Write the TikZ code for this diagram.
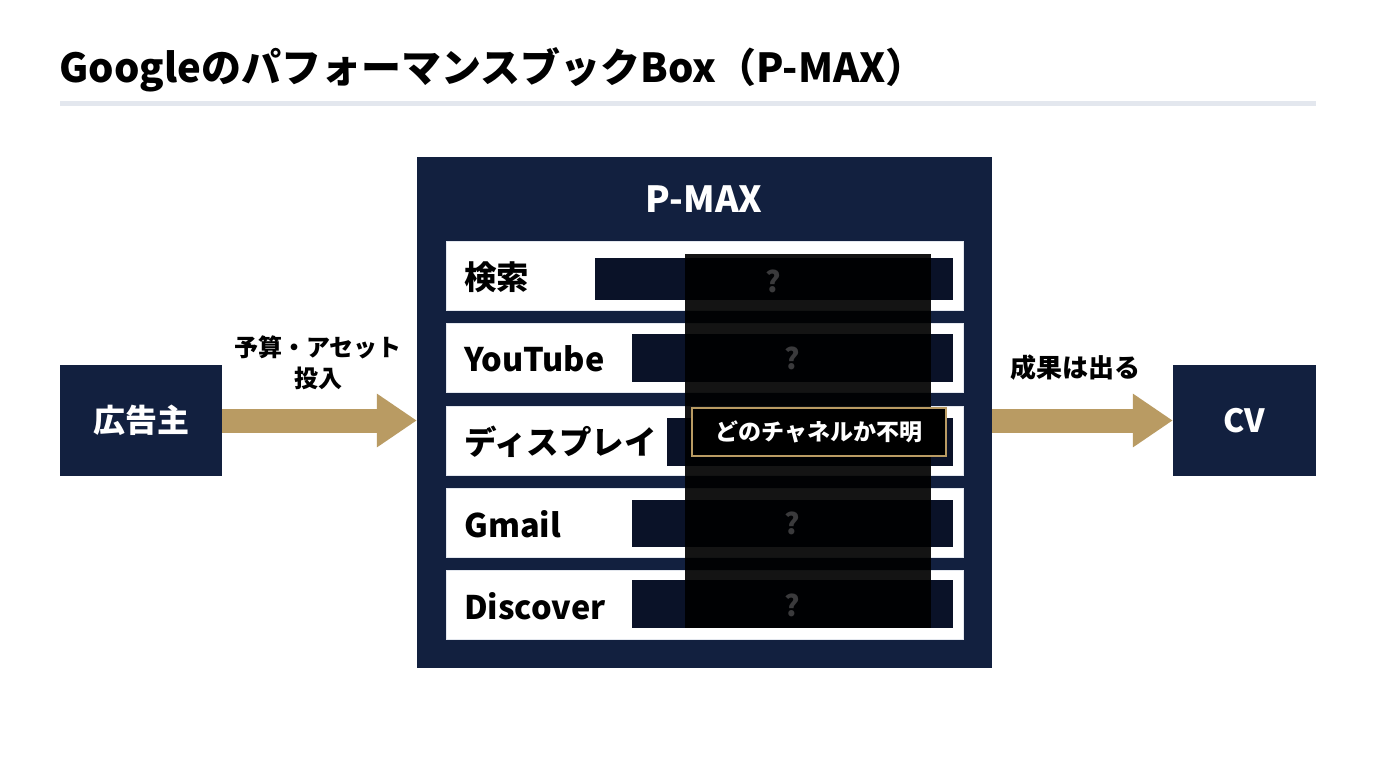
\documentclass[tikz,border=0pt]{standalone}
\usepackage{fontspec}
\setmainfont{Noto Sans CJK JP}
\usetikzlibrary{arrows.meta}
\definecolor{navy}{HTML}{12203F}
\definecolor{gold}{HTML}{B99B63}
\definecolor{rulegray}{HTML}{E3E7EE}
\definecolor{qgray}{HTML}{3A3A3C}
\definecolor{barnavy}{HTML}{0A1228}
\tikzset{
  navybox/.style={fill=navy, text=white, inner sep=0pt, font=\bfseries\fontsize{32}{36}\selectfont},
  rowbox/.style={fill=white, draw=rulegray, line width=0.6pt, minimum width=517pt, minimum height=69pt, inner sep=0pt},
  rowlabel/.style={anchor=west, font=\bfseries\fontsize{32.5}{35}\selectfont, inner sep=0pt},
  bar/.style={fill=barnavy, anchor=east, minimum height=46pt, inner sep=0pt},
  qmark/.style={text=qgray, font=\bfseries\fontsize{29}{32}\selectfont, inner sep=0pt},
  goldarrow/.style={draw=gold, line width=24pt, -{Triangle[length=40pt,width=51pt]}},
  lbl/.style={font=\bfseries\fontsize{24}{31}\selectfont, align=center, inner sep=0pt}
}
\begin{document}
\begin{tikzpicture}[x=1pt,y=-1pt]
\useasboundingbox[fill=white] (0,0) rectangle (1376,768);
% title
\node[anchor=west, inner sep=0pt, font=\bfseries\fontsize{40}{44}\selectfont] (title) at (59,70) {Googleのパフォーマンスブック{}Box（P-MAX）};
\fill[rulegray] (60,101) rectangle (1316,106);
% main boxes
\node[navybox, minimum width=162pt, minimum height=111pt] (adv) at (141,420.5) {広告主};
\node[fill=navy, minimum width=575pt, minimum height=511pt, inner sep=0pt] (pmax) at (704.5,412.5) {};
\node[text=white, font=\bfseries\fontsize{36}{40}\selectfont, inner sep=0pt] (pmaxt) at (704,199) {P-MAX};
\node[navybox, minimum width=143pt, minimum height=111pt] (cv) at (1244.5,420.5) {CV};
% rows
\node[rowbox] (r1) at (704.5,275.5) {};
\node[rowbox] (r2) at (704.5,357.5) {};
\node[rowbox] (r3) at (704.5,440.5) {};
\node[rowbox] (r4) at (704.5,522.5) {};
\node[rowbox] (r5) at (704.5,604.5) {};
\node[rowlabel] (l1) at (464,277) {検索};
\node[rowlabel] (l2) at (464,359) {YouTube};
\node[rowlabel] (l3) at (464,442) {ディスプレイ};
\node[rowlabel] (l4) at (464,524) {Gmail};
\node[rowlabel] (l5) at (464,606) {Discover};
\node[bar, minimum width=358pt, minimum height=42pt] (b1) at (953,279) {};
\node[bar, minimum width=321pt, minimum height=48pt] (b2) at (953,358) {};
\node[bar, minimum width=286pt, minimum height=48pt] (b3) at (953,442) {};
\node[bar, minimum width=321pt, minimum height=47pt] (b4) at (953,523) {};
\node[bar, minimum width=321pt, minimum height=48pt] (b5) at (953,604) {};
% overlay
\node[fill=black, opacity=0.92, minimum width=246pt, minimum height=374pt, inner sep=0pt] (cover) at (808,441) {};
\node[qmark] (q1) at (773,281) {?};
\node[qmark] (q2) at (792,358) {?};
\node[qmark] (q4) at (792,523) {?};
\node[qmark] (q5) at (792,605) {?};
\node[fill=black, draw=gold, line width=1.2pt, text=white, minimum width=254pt, minimum height=48pt, inner sep=0pt, font=\bfseries\fontsize{23}{26}\selectfont] (unk) at (819,432) {どのチャネルか不明};
% arrows
\draw[goldarrow] (adv.east) -- (adv.east -| pmax.west);
\draw[goldarrow] (cv.west -| pmax.east) -- (cv.west);
\node[lbl] (budget) at (318,363) {予算・アセット\\投入};
\node[lbl, font=\bfseries\fontsize{26}{30}\selectfont] (result) at (1075,368) {成果は出る};
\end{tikzpicture}
\end{document}
